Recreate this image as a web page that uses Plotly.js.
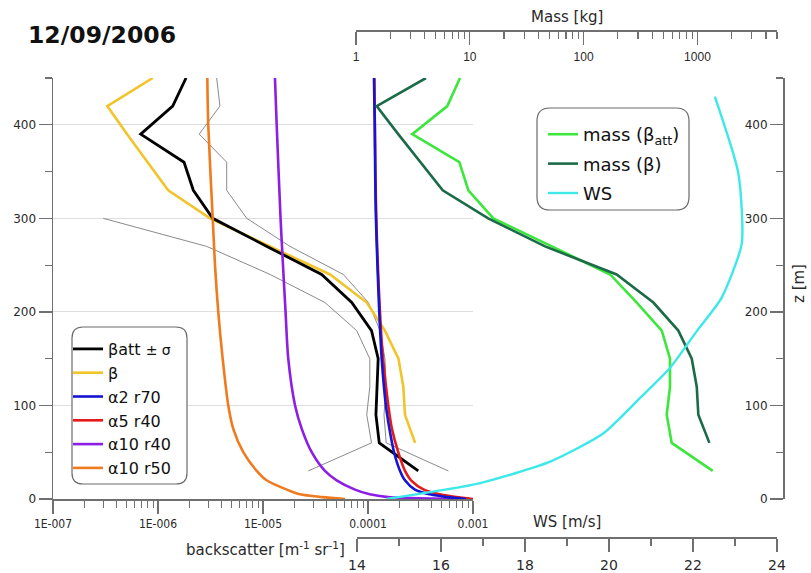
<!DOCTYPE html>
<html>
<head>
<meta charset="utf-8">
<script src="https://cdn.plot.ly/plotly-3.0.1.min.js"></script>
<style>html,body{margin:0;padding:0;background:#fff;}#chart{width:811px;height:573px;}</style>
</head>
<body>
<div id="chart"></div>
<script>
// ---------------- data ----------------
const zStd = [450,420,390,360,330,300,270,240,210,180,150,120,90,60,30];
const betaAtt = [1.85e-6,1.38e-6,6.84e-7,1.77e-6,2.17e-6,3.32e-6,1.09e-5,3.62e-5,7.00e-5,1.08e-4,1.25e-4,1.22e-4,1.19e-4,1.28e-4,3.01e-4];
const betaAttUpper = [3.62e-6,3.89e-6,2.47e-6,4.51e-6,4.51e-6,7.00e-6,1.81e-5,5.82e-5,1.01e-4,1.30e-4,1.45e-4,1.49e-4,1.42e-4,1.49e-4,5.82e-4];
const zLower = [300,270,240,210,180,150,120,90,60,30];
const betaAttLower = [3.01e-7,2.91e-6,1.17e-5,3.89e-5,7.80e-5,1.04e-4,1.04e-4,9.73e-5,1.08e-4,2.70e-5];
const zBeta = [450,420,390,360,330,300,270,240,210,180,150,120,90,60];
const beta = [8.91e-7,3.29e-7,5.08e-7,7.94e-7,1.25e-6,3.13e-6,1.15e-5,4.35e-5,9.73e-5,1.45e-4,1.95e-4,2.17e-4,2.25e-4,2.81e-4];

const zA2r70 = [450,400,350,300,250,200,150,100,75,50,30,20,10,5,2,0];
const a2r70 = [1.14e-4,1.16e-4,1.17e-4,1.19e-4,1.23e-4,1.28e-4,1.35e-4,1.48e-4,1.60e-4,1.77e-4,2.02e-4,2.25e-4,2.80e-4,3.89e-4,5.65e-4,8.58e-4];
const zA5r40 = [450,300,200,150,100,75,50,30,20,10,5,2,0];
const a5r40 = [1.15e-4,1.20e-4,1.30e-4,1.39e-4,1.56e-4,1.69e-4,1.94e-4,2.25e-4,2.57e-4,3.41e-4,4.85e-4,6.89e-4,1.0e-3];
const zA10r40 = [450,400,300,250,200,150,100,75,50,30,20,10,5,2,1,0];
const a10r40 = [1.30e-5,1.35e-5,1.47e-5,1.55e-5,1.64e-5,1.74e-5,2.02e-5,2.34e-5,2.91e-5,3.89e-5,5.03e-5,7.52e-5,1.04e-4,1.55e-4,2.5e-4,8.96e-4];
const zA10r50 = [450,400,300,250,200,150,100,75,50,30,20,10,5,2,0];
const a10r50 = [2.95e-6,3.01e-6,3.32e-6,3.49e-6,3.75e-6,4.13e-6,4.67e-6,5.21e-6,6.49e-6,8.71e-6,1.08e-5,1.69e-5,2.25e-5,3.65e-5,6.04e-5];

const massBetaAtt = [8.20,6.34,3.12,8.09,9.70,16.1,52.5,171,293,486,574,574,537,594,1362];
const massBeta = [4.12,1.52,2.35,3.67,5.78,14.5,45.8,195,410,679,891,986,1018,1273];

const zWS = [430,348,273,215,180,140,108,70,40,17,0];
const ws = [22.52,23.08,23.16,22.68,22.10,21.45,20.74,19.86,18.60,16.93,14.70];

const bsTickVals = [1e-7,1e-6,1e-5,1e-4,1e-3];
const bsTickText = ['1E-007','1E-006','1E-005','0.0001','0.001'];
const massTickVals = [1,10,100,1000];
const massTickText = ['1','10','100','1000'];
const zMinorTicks = [50,150,250,350,450];
const wsMinorTicks = [15,17,19,21,23];

// ---------------- axis helpers ----------------
function logMinor(startExp, endExp, maxVal) {
  const out = [];
  for (let e = startExp; e < endExp; e++) {
    for (let m = 2; m <= 9; m++) {
      const v = m * Math.pow(10, e);
      if (maxVal === undefined || v <= maxVal * 1.0001) out.push(v);
    }
  }
  return out;
}

const W = 811, H = 573;
const X = px => px / W;
const Y = py => 1 - py / H;
function roundRect(x0, y0, x1, y1, r) {
  const p = (a, b) => X(a).toFixed(5) + ',' + Y(b).toFixed(5);
  return 'M' + p(x0 + r, y0) + ' L' + p(x1 - r, y0) + ' Q' + p(x1, y0) + ' ' + p(x1, y0 + r) +
    ' L' + p(x1, y1 - r) + ' Q' + p(x1, y1) + ' ' + p(x1 - r, y1) +
    ' L' + p(x0 + r, y1) + ' Q' + p(x0, y1) + ' ' + p(x0, y1 - r) +
    ' L' + p(x0, y0 + r) + ' Q' + p(x0, y0) + ' ' + p(x0 + r, y0) + ' Z';
}

const F = 'DejaVu Sans, Verdana, sans-serif';
const NARROW = 'Liberation Sans Narrow, Arial Narrow, DejaVu Sans Condensed, sans-serif';
const AX = '#707070';
const TXT = '#2a2a2a';

const traces = [
  {x: betaAttUpper, y: zStd, xaxis: 'x', yaxis: 'y', mode: 'lines', line: {color: '#8a8a8a', width: 1}, showlegend: false, hoverinfo: 'skip'},
  {x: betaAttLower, y: zLower, xaxis: 'x', yaxis: 'y', mode: 'lines', line: {color: '#8a8a8a', width: 1}, showlegend: false, hoverinfo: 'skip'},
  {x: beta, y: zBeta, xaxis: 'x', yaxis: 'y', mode: 'lines', name: 'β', line: {color: '#F2C42C', width: 2.6}, legend: 'legend', legendrank: 2},
  {x: betaAtt, y: zStd, xaxis: 'x', yaxis: 'y', mode: 'lines', name: "βatt <span style='font-size:14px'>± σ</span>", line: {color: '#000000', width: 2.8}, legend: 'legend', legendrank: 1},
  {x: a10r50, y: zA10r50, xaxis: 'x', yaxis: 'y', mode: 'lines', name: 'α10 r50', line: {color: '#F07A1E', width: 2.6, shape: 'spline', smoothing: 0.8}, legend: 'legend', legendrank: 6},
  {x: a10r40, y: zA10r40, xaxis: 'x', yaxis: 'y', mode: 'lines', name: 'α10 r40', line: {color: '#8C1EE6', width: 2.6, shape: 'spline', smoothing: 0.8}, legend: 'legend', legendrank: 5},
  {x: a5r40, y: zA5r40, xaxis: 'x', yaxis: 'y', mode: 'lines', name: 'α5 r40', line: {color: '#E41A1A', width: 2.6, shape: 'spline', smoothing: 0.8}, legend: 'legend', legendrank: 4},
  {x: a2r70, y: zA2r70, xaxis: 'x', yaxis: 'y', mode: 'lines', name: 'α2 r70', line: {color: '#1414D2', width: 2.6, shape: 'spline', smoothing: 0.8}, legend: 'legend', legendrank: 3},
  {x: massBetaAtt, y: zStd, xaxis: 'x2', yaxis: 'y2', mode: 'lines', name: 'mass (β<sub>att</sub>)', line: {color: '#3CE63C', width: 2.6}, legend: 'legend2', legendgroup: 'g1'},
  {x: massBeta, y: zBeta, xaxis: 'x2', yaxis: 'y2', mode: 'lines', name: 'mass (β)', line: {color: '#1B6B48', width: 2.6}, legend: 'legend2', legendgroup: 'g2'},
  {x: ws, y: zWS, xaxis: 'x3', yaxis: 'y2', mode: 'lines', name: 'WS', line: {color: '#3CE8E8', width: 2.4, shape: 'spline', smoothing: 0.6}, legend: 'legend2', legendgroup: 'g3'}
];

const yDomain = [Y(499), Y(78)];
const commonTick = {showline: true, linecolor: AX, linewidth: 1.5, ticks: 'outside', ticklen: 13, tickwidth: 1.3, tickcolor: AX, zeroline: false};
const minorStyle = {ticks: 'outside', ticklen: 7, tickwidth: 1.2, tickcolor: AX, showgrid: false};

const layout = {
  width: W, height: H,
  margin: {l: 0, r: 0, t: 0, b: 0, pad: 0},
  paper_bgcolor: '#ffffff',
  plot_bgcolor: 'rgba(0,0,0,0)',
  font: {family: F, color: TXT},
  xaxis: Object.assign({}, commonTick, {
    type: 'log', range: [-7, -3], domain: [X(53), X(473)], anchor: 'y',
    tickmode: 'array', tickvals: bsTickVals, ticktext: bsTickText,
    tickfont: {family: NARROW, size: 12, color: TXT}, showgrid: false,
    minor: Object.assign({tickmode: 'array', tickvals: logMinor(-7, -3)}, minorStyle)
  }),
  yaxis: Object.assign({}, commonTick, {
    range: [0, 450], domain: yDomain, anchor: 'x', side: 'left',
    tick0: 0, dtick: 100, showgrid: true, gridcolor: '#dedede', gridwidth: 1,
    tickfont: {family: F, size: 12, color: TXT},
    minor: Object.assign({tickmode: 'array', tickvals: zMinorTicks}, minorStyle)
  }),
  yaxis2: Object.assign({}, commonTick, {
    range: [0, 450], domain: yDomain, anchor: 'free', position: X(783), side: 'left',
    tick0: 0, dtick: 100, showgrid: false,
    tickfont: {family: F, size: 12, color: TXT},
    minor: Object.assign({tickmode: 'array', tickvals: zMinorTicks}, minorStyle)
  }),
  xaxis2: Object.assign({}, commonTick, {
    type: 'log', range: [0, Math.log10(5000)], domain: [X(356), X(777)], anchor: 'free', position: Y(30), side: 'bottom',
    tickmode: 'array', tickvals: massTickVals, ticktext: massTickText,
    tickfont: {family: 'Liberation Sans, Arial, sans-serif', size: 12, color: TXT}, showgrid: false,
    ticklabelstandoff: 2,
    minor: Object.assign({tickmode: 'array', tickvals: logMinor(0, 4, 5000)}, minorStyle)
  }),
  xaxis3: Object.assign({}, commonTick, {
    range: [14, 24], domain: [X(357), X(777)], anchor: 'free', position: Y(537), side: 'bottom',
    tick0: 14, dtick: 2, showgrid: false,
    tickfont: {family: F, size: 14, color: TXT},
    ticklabelstandoff: 2,
    minor: Object.assign({tickmode: 'array', tickvals: wsMinorTicks}, minorStyle)
  }),
  legend: {x: X(68), y: Y(332), xanchor: 'left', yanchor: 'top', bgcolor: 'rgba(0,0,0,0)', borderwidth: 0,
    font: {family: F, size: 16, color: '#111'}, traceorder: 'normal'},
  legend2: {x: X(543), y: Y(116), xanchor: 'left', yanchor: 'top', bgcolor: 'rgba(0,0,0,0)', borderwidth: 0,
    font: {family: F, size: 18, color: '#111'}, traceorder: 'grouped', tracegroupgap: 3},
  shapes: [
    {type: 'path', xref: 'paper', yref: 'paper', path: roundRect(72, 327, 187, 484, 11), fillcolor: '#ffffff', line: {color: '#6a6a6a', width: 1.2}, layer: 'above'},
    {type: 'path', xref: 'paper', yref: 'paper', path: roundRect(537, 108, 689, 210, 13), fillcolor: '#ffffff', line: {color: '#6a6a6a', width: 1.2}, layer: 'above'}
  ],
  annotations: [
    {text: '<b>12/09/2006</b>', x: X(26), y: Y(35), xref: 'paper', yref: 'paper', xanchor: 'left', yanchor: 'middle', showarrow: false, font: {family: F, size: 23.5, color: '#111'}},
    {text: 'Mass [kg]', x: X(567), y: Y(17), xref: 'paper', yref: 'paper', xanchor: 'center', yanchor: 'middle', showarrow: false, font: {family: F, size: 15, color: TXT}},
    {text: 'WS [m/s]', x: X(567), y: Y(522), xref: 'paper', yref: 'paper', xanchor: 'center', yanchor: 'middle', showarrow: false, font: {family: F, size: 15, color: TXT}},
    {text: 'backscatter [m<sup>-1</sup> sr<sup>-1</sup>]', x: X(347), y: Y(549), xref: 'paper', yref: 'paper', xanchor: 'right', yanchor: 'middle', showarrow: false, font: {family: F, size: 15, color: TXT}},
    {text: 'z [m]', x: X(799), y: Y(284), xref: 'paper', yref: 'paper', xanchor: 'center', yanchor: 'middle', textangle: -90, showarrow: false, font: {family: F, size: 15, color: TXT}}
  ]
};

Plotly.newPlot('chart', traces, layout, {staticPlot: true, displayModeBar: false});
</script>
</body>
</html>
